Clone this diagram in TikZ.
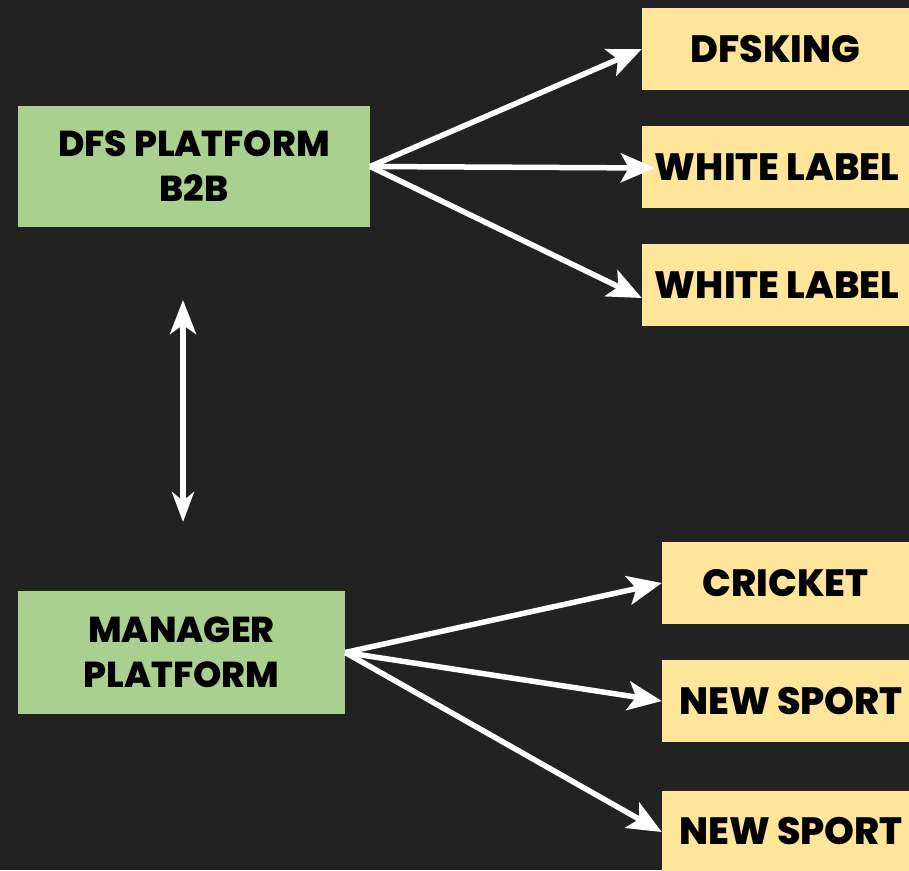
\documentclass[tikz,border=0pt]{standalone}
\usepackage{fontspec}
\setmainfont{Poppins}[BoldFont={Poppins ExtraBold}]
\usetikzlibrary{arrows.meta,calc}
\definecolor{bg}{HTML}{222222}
\definecolor{gbox}{HTML}{A9D08E}
\definecolor{ybox}{HTML}{FFE599}
\begin{document}
\begin{tikzpicture}[x=1pt,y=-1pt,
  greenbox/.style={fill=gbox, draw=none, inner sep=0pt, align=center,
    font=\fontsize{36}{45}\selectfont\bfseries, text=black},
  yellowbox/.style={fill=ybox, draw=none, inner sep=0pt, align=center,
    minimum height=82pt, font=\fontsize{38}{40}\selectfont\bfseries, text=black},
  ytext/.style={font=\fontsize{38}{40}\selectfont\bfseries, text=black, inner sep=0pt},
  conn/.style={draw=white, line width=5.5pt,
    -{Stealth[length=34pt,width=29pt,inset=8pt]}},
  biconn/.style={draw=white, line width=5.5pt,
    {Stealth[length=34pt,width=26pt,inset=9pt]}-{Stealth[length=30pt,width=22pt,inset=9pt]}}
]
\fill[bg] (0,0) rectangle (909,870);
\useasboundingbox (0,0) rectangle (909,870);

\node[greenbox, minimum width=352pt, minimum height=121pt] (g1) at (194,166.5) {DFS PLATFORM\\B2B};
\node[greenbox, minimum width=327pt, minimum height=123pt] (g2) at (181.5,652.5) {MANAGER\\PLATFORM};

\begin{scope}
\clip (0,0) rectangle (909,870);
\node[yellowbox, minimum width=267pt] (y1) at (775.5,49) {DFSKING};
\node[yellowbox, minimum width=267pt] (y2) at (775.5,167) {};
\node[yellowbox, minimum width=267pt] (y3) at (775.5,285) {};
\node[yellowbox, minimum width=247pt] (y4) at (785.5,583) {CRICKET};
\node[yellowbox, minimum width=247pt] (y5) at (785.5,701) {};
\node[yellowbox, minimum width=247pt] (y6) at (785.5,832) {};
\end{scope}

\coordinate (top) at (183,300);
\coordinate (bot) at (183,522);
\draw[biconn] (top) -- (bot);

\draw[conn] (g1.east) -- (y1.west);
\draw[conn] (g1.east) -- ($(y2.west)+(13,1)$);
\draw[conn] (g1.east) -- ($(y3.west)+(0,13)$);
\draw[conn] (g2.east) -- (y4.west);
\draw[conn] (g2.east) -- (y5.west);
\draw[conn] (g2.east) -- (y6.west);

\node[ytext] (t2) at (777,167) {WHITE LABEL};
\node[ytext] (t3) at (777,285) {WHITE LABEL};
\node[ytext] (t5) at (791,701) {NEW SPORT};
\node[ytext] (t6) at (791,831) {NEW SPORT};
\end{tikzpicture}
\end{document}
